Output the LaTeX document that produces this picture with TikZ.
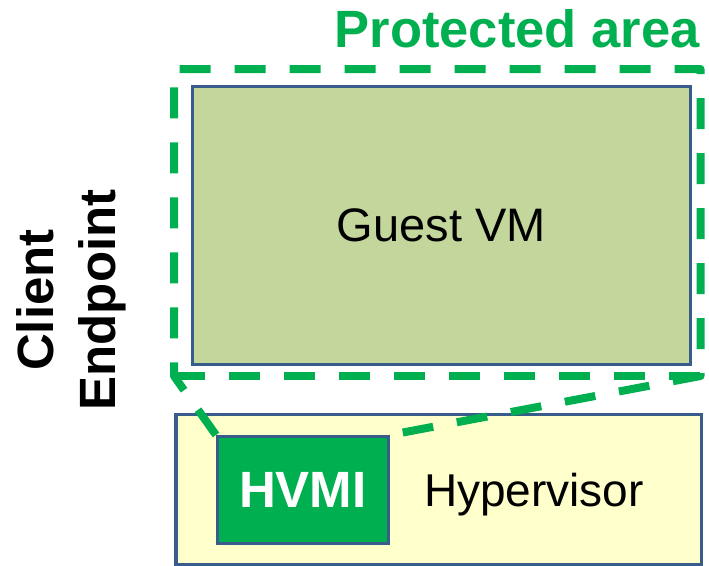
\documentclass[tikz,border=0pt]{standalone}
\usepackage{fontspec}
\setmainfont{Liberation Sans}
\definecolor{framegreen}{HTML}{00B050}
\definecolor{edgeblue}{HTML}{385D8A}
\definecolor{vmfill}{HTML}{C3D69B}
\definecolor{hvfill}{HTML}{FFFFCC}
\tikzset{
  box/.style={draw=edgeblue, line width=3.3pt, rectangle, inner sep=0pt},
  zone/.style={draw=framegreen, line width=8pt, dash pattern=on 31pt off 24pt,
               line join=round},
}
\begin{document}
\begin{tikzpicture}[x=1pt, y=-1pt]
  \useasboundingbox (0,0) rectangle (709,565);

  % hypervisor layer and the introspection engine inside it
  \node[box, fill=hvfill, anchor=north west, minimum width=525.7pt, minimum height=150.5pt]
    (hyper) at (174.3,412.5) {};
  \node[anchor=base, font=\fontsize{46}{55}\selectfont] (hyperlbl) at (534,506) {Hypervisor};
  \node[box, fill=framegreen, anchor=north west, minimum width=170.5pt, minimum height=106.5pt,
        text=white, font=\bfseries\fontsize{51}{61}\selectfont]
    (hvmi) at (216,435) {HVMI};

  % guest virtual machine
  \node[box, fill=vmfill, anchor=north west, minimum width=498.5pt, minimum height=278pt,
        font=\fontsize{47}{56}\selectfont]
    (guest) at (190.5,85) {\raisebox{-3pt}{Guest VM}};

  % protected area outline
  \coordinate (zl) at (174,376);
  \coordinate (zr) at (700.5,376);
  \coordinate (ztl) at (174,69);
  \coordinate (ztr) at (700.5,69);
  \draw[zone] (hvmi.north west) -- (zl) -- (ztl) -- (ztr) -- (zr) -- (hvmi.north east);
  \draw[zone] (zl) -- (zr);
  \node[anchor=base east, text=framegreen, font=\bfseries\fontsize{52.5}{62}\selectfont]
    (zonelbl) at (703,47) {Protected area};

  % side label
  \node[rotate=90, anchor=base, font=\bfseries\fontsize{51}{61}\selectfont]
    (clientlbl) at (53,300) {Client};
  \node[rotate=90, anchor=base, font=\bfseries\fontsize{51}{61}\selectfont]
    (endpointlbl) at (115,300) {Endpoint};
\end{tikzpicture}
\end{document}
